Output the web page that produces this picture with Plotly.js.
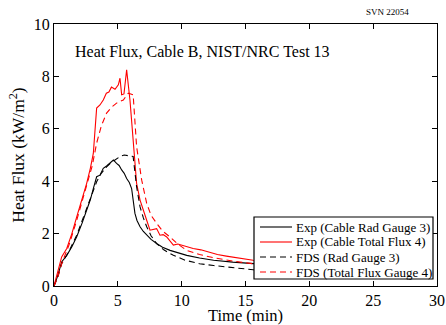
<!DOCTYPE html>
<html><head><meta charset="utf-8">
<script src="https://cdn.plot.ly/plotly-3.0.1.min.js"></script>
<style>body{margin:0;background:#fff}#chart{width:446px;height:325px}</style>
</head><body><div id="chart"></div>
<script>
// Exp (Cable Rad Gauge 3)
const expRadT = [0,0.3,0.6,1.0,1.4,1.78,2.2,2.56,2.85,3.08,3.34,3.6,3.86,4.12,4.4,4.65,4.9,5.1,5.3,5.5,5.69,5.9,6.08,6.2,6.34,6.5,6.74,7.0,7.26,7.6,8.04,8.5,9.09,9.7,10.4,11.4,12.5,14.0,15.6,17.5,20,22.5,25];
const expRadY = [0,0.4,0.92,1.17,1.5,1.88,2.4,2.9,3.3,3.72,4.17,4.23,4.49,4.58,4.7,4.81,4.68,4.6,4.43,4.3,4.1,3.95,3.72,3.2,2.77,2.5,2.26,2.08,1.94,1.78,1.62,1.48,1.36,1.26,1.17,1.07,0.98,0.91,0.85,0.78,0.7,0.63,0.57];
// Exp (Cable Total Flux 4)
const expTotT = [0,0.3,0.6,1.0,1.4,1.78,2.2,2.56,2.85,3.08,3.34,3.6,3.86,4.1,4.3,4.5,4.78,5.04,5.17,5.3,5.48,5.69,5.95,6.2,6.47,6.74,7.0,7.26,7.52,7.8,8.04,8.3,8.55,8.83,9.1,9.35,9.7,10.0,10.5,10.9,11.5,12.0,12.8,13.5,14.5,15.6,17.5,20,22.5,25];
const expTotY = [0,0.6,1.11,1.43,2.0,2.64,3.3,3.92,4.5,5.06,6.79,6.91,7.1,7.36,7.4,7.59,7.51,7.68,7.93,7.3,7.33,8.25,7.1,5.45,3.92,3.28,2.85,2.51,2.13,2.15,2.19,1.94,1.96,1.87,1.7,1.56,1.6,1.56,1.5,1.43,1.38,1.3,1.2,1.14,1.06,0.98,0.9,0.82,0.74,0.67];
// FDS (Rad Gauge 3)
const fdsRadT = [0,0.3,0.6,1.2,1.78,2.2,2.56,3.0,3.34,3.7,4.12,4.5,4.9,5.2,5.5,5.8,6.2,6.47,6.74,7.0,7.26,7.6,8.04,8.6,9.35,10.3,11.4,12.5,13.5,14.5,15.6,17.5,20,22.5,25];
const fdsRadY = [0,0.35,0.85,1.35,1.94,2.5,3.02,3.55,3.98,4.3,4.55,4.72,4.87,4.95,5.0,4.97,4.94,3.79,3.02,2.6,2.26,1.92,1.62,1.38,1.17,0.98,0.85,0.78,0.73,0.67,0.62,0.56,0.5,0.45,0.41];
// FDS (Total Flux Gauge 4)
const fdsTotT = [0,0.3,0.6,1.2,1.78,2.2,2.56,3.0,3.34,3.7,4.12,4.5,4.9,5.2,5.43,5.82,6.2,6.47,6.87,7.26,7.6,8.04,8.5,9.09,9.7,10.4,11.4,12.5,14.0,15.6,17.5,20,22.5,25];
const fdsTotY = [0,0.35,0.85,1.6,2.51,3.2,3.79,4.6,5.45,6.1,6.6,6.82,6.98,7.05,7.1,7.36,7.3,5.32,4.04,3.15,2.7,2.39,2.1,1.87,1.6,1.36,1.2,1.08,0.95,0.85,0.77,0.7,0.63,0.57];

const seriesNames = ["Exp (Cable Rad Gauge 3)","Exp (Cable Total Flux 4)","FDS (Rad Gauge 3)","FDS (Total Flux Gauge 4)"];
const seriesColors = ["#000000","#ff0000","#000000","#ff0000"];
const seriesDash = ["solid","solid","6px,4px","6px,4px"];
const xTicks = [0,5,10,15,20,25,30];
const yTicks = [0,2,4,6,8,10];

const xs = [expRadT, expTotT, fdsRadT, fdsTotT];
const ys = [expRadY, expTotY, fdsRadY, fdsTotY];
const traces = xs.map((x,i)=>({x:x,y:ys[i],type:'scatter',mode:'lines',name:seriesNames[i],
  line:{color:seriesColors[i],width:1.1,dash:seriesDash[i]},showlegend:false,hoverinfo:'skip'}));

// manual legend in paper coords (plot area: 54..437 px wide, 24..286 px tall)
const W=446,H=325,L=54,R=9,T=24,B=39;
const pw=W-L-R, ph=H-T-B;
const px=v=>(v-L)/pw, py=v=>(H-B-v)/ph;
const shapes=[{type:'rect',xref:'paper',yref:'paper',x0:px(254),x1:px(433),y0:py(279),y1:py(217),
  fillcolor:'#ffffff',line:{color:'#000',width:1.2},layer:'above'}];
const annotations=[];
const rowY=[227,242,257,272];
seriesNames.forEach((n,i)=>{
  shapes.push({type:'line',xref:'paper',yref:'paper',x0:px(260),x1:px(292),y0:py(rowY[i]),y1:py(rowY[i]),
    line:{color:seriesColors[i],width:1.1,dash:seriesDash[i]},layer:'above'});
  annotations.push({xref:'paper',yref:'paper',x:px(294),y:py(rowY[i]),xanchor:'left',yanchor:'middle',
    text:n,showarrow:false,font:{family:'Liberation Serif',size:13,color:'#000'}});
});
annotations.push({xref:'paper',yref:'paper',x:px(73),y:py(51),xanchor:'left',yanchor:'middle',
  text:'Heat Flux, Cable B, NIST/NRC Test 13',showarrow:false,font:{family:'Liberation Serif',size:16,color:'#000'}});
annotations.push({xref:'paper',yref:'paper',x:px(387),y:py(12),xanchor:'center',yanchor:'middle',
  text:'SVN 22054',showarrow:false,font:{family:'Liberation Serif',size:9,color:'#000'}});

const layout={width:W,height:H,margin:{l:L,r:R,t:T,b:B},paper_bgcolor:'#fff',plot_bgcolor:'#fff',
  font:{family:'Liberation Serif',size:15,color:'#000'},
  xaxis:{range:[0,30],tickvals:xTicks,ticks:'inside',ticklen:5,tickcolor:'#000',showline:true,linecolor:'#000',linewidth:1,
    mirror:'ticks',showgrid:false,zeroline:false,tickfont:{size:16},
    title:{text:'Time (min)',font:{size:16.5},standoff:4}},
  yaxis:{range:[0,10],tickvals:yTicks,ticks:'inside',ticklen:5,tickcolor:'#000',showline:true,linecolor:'#000',linewidth:1,
    mirror:'ticks',showgrid:false,zeroline:false,tickfont:{size:16},
    title:{text:'Heat Flux (kW/m<sup>2</sup>)',font:{size:17.5},standoff:4}},
  shapes:shapes,annotations:annotations,showlegend:false};
Plotly.newPlot('chart',traces,layout,{staticPlot:true,displayModeBar:false});
</script></body></html>
